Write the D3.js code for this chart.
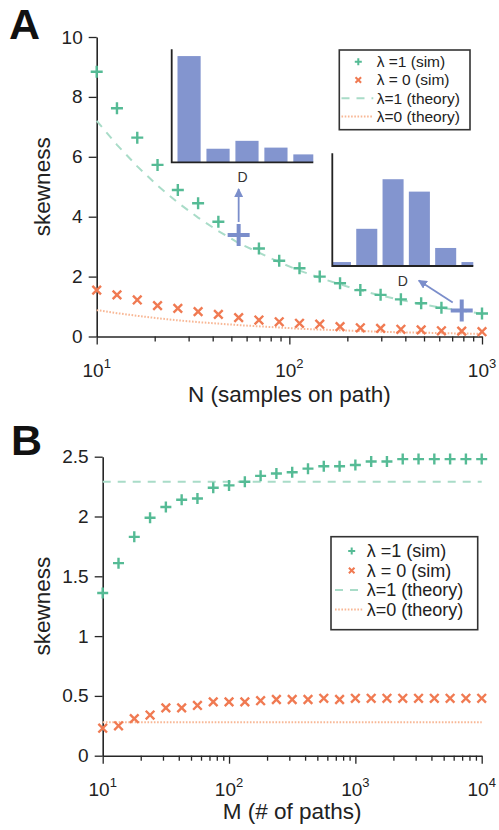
<!DOCTYPE html>
<html>
<head>
<meta charset="utf-8">
<script src="https://cdn.jsdelivr.net/npm/d3@7"></script>
<style>
  body { margin: 0; background: #fff; }
  svg { font-family: "Liberation Sans", Arial, Helvetica, sans-serif; }
</style>
</head>
<body>
<div class="chart"></div>
<script>
// panel A: skewness vs N
var nSamples = [10, 12.74, 16.24, 20.69, 26.37, 33.6, 42.81, 54.56, 69.52, 88.59,
  112.9, 143.8, 183.3, 233.6, 297.6, 379.3, 483.3, 615.8, 784.8, 1000];
var simLam1A = [8.84, 7.62, 6.64, 5.73, 4.89, 4.45, 3.83, 3.39, 2.94, 2.53,
  2.28, 2.00, 1.78, 1.55, 1.39, 1.24, 1.11, 0.96, 0.87, 0.77];
var simLam0A = [1.55, 1.39, 1.22, 1.03, 0.94, 0.83, 0.74, 0.63, 0.55, 0.49,
  0.44, 0.41, 0.33, 0.29, 0.27, 0.24, 0.22, 0.19, 0.18, 0.16];
var theoryLam1A = [7.2, 6.4, 5.68, 5.04, 4.47, 3.97, 3.52, 3.12, 2.8, 2.48,
  2.2, 1.96, 1.74, 1.54, 1.37, 1.22, 1.08, 0.96, 0.86, 0.76];
var theoryLam0A = [0.88, 0.78, 0.69, 0.61, 0.54, 0.48, 0.43, 0.38, 0.34, 0.30,
  0.26, 0.23, 0.21, 0.18, 0.16, 0.14, 0.13, 0.11, 0.10, 0.09];
var highlightA = [7, 18];
var histSmallN = [0.94, 0.12, 0.19, 0.13, 0.07];
var histLargeN = [0.035, 0.33, 0.77, 0.66, 0.16, 0.035];
var yTicksA = [0, 2, 4, 6, 8, 10];

// panel B: skewness vs M
var nPaths = [10, 13.34, 17.78, 23.71, 31.62, 42.17, 56.23, 74.99, 100, 133.4,
  177.8, 237.1, 316.2, 421.7, 562.3, 749.9, 1000, 1334, 1778, 2371,
  3162, 4217, 5623, 7499, 10000];
var simLam1B = [1.36, 1.61, 1.83, 1.99, 2.08, 2.14, 2.15, 2.24, 2.26, 2.29,
  2.34, 2.36, 2.37, 2.40, 2.42, 2.42, 2.43, 2.46, 2.46, 2.48,
  2.48, 2.48, 2.48, 2.48, 2.48];
var simLam0B = [0.23, 0.25, 0.31, 0.34, 0.40, 0.40, 0.42, 0.45, 0.45, 0.45,
  0.46, 0.47, 0.47, 0.47, 0.48, 0.47, 0.48, 0.48, 0.48, 0.48,
  0.48, 0.48, 0.48, 0.48, 0.48];
var theoryPathsB = [10, 10000];
var theoryLam1B = [2.29, 2.29];
var theoryLam0B = [0.28, 0.28];
var yTicksB = [0, 0.5, 1, 1.5, 2, 2.5];

var legendLabels = ['\u03bb =1 (sim)', '\u03bb = 0 (sim)', '\u03bb=1 (theory)', '\u03bb=0 (theory)'];

var green = '#55bb95', orange = '#f07a52', greenLight = '#a9dcc8', orangeLight = '#f8b795';
var blue = '#7b8ecb', axisColor = '#262626';

var svg = d3.select('.chart').append('svg')
  .attr('width', 499).attr('height', 830);

var defs = svg.append('defs');
defs.append('marker')
  .attr('id', 'arrow')
  .attr('viewBox', '0 0 10 10')
  .attr('refX', 9).attr('refY', 5)
  .attr('markerWidth', 9).attr('markerHeight', 9)
  .attr('markerUnits', 'userSpaceOnUse')
  .attr('orient', 'auto')
  .append('path')
    .attr('d', 'M0,0L10,5L0,10z')
    .attr('fill', blue);

function plusPath(h) { return 'M' + (-h) + ',0H' + h + 'M0,' + (-h) + 'V' + h; }
function crossPath(h) { return 'M' + (-h) + ',' + (-h) + 'L' + h + ',' + h + 'M' + (-h) + ',' + h + 'L' + h + ',' + (-h); }

function styleAxis(g) {
  g.selectAll('path.domain').attr('stroke', axisColor).attr('stroke-width', 1.6);
  g.selectAll('.tick line').attr('stroke', axisColor).attr('stroke-width', 1.3);
  g.selectAll('.tick text').attr('fill', '#222');
}

function drawPanel(p) {
  var x = d3.scaleLog().domain(p.xDomain).range(p.xRange);
  var y = d3.scaleLinear().domain(p.yDomain).range(p.yRange);
  var g = svg.append('g');

  // y axis
  var ya = g.append('g')
    .attr('transform', `translate(${p.xRange[0]},0)`)
    .call(d3.axisLeft(y).tickValues(p.yTicks).tickSize(8).tickSizeOuter(0).tickPadding(6)
      .tickFormat(d => String(d)));
  ya.selectAll('.tick text').attr('font-size', 19).attr('font-family', null);
  styleAxis(ya);

  // x axis, major + minor ticks
  var majors = [];
  for (var e = Math.log10(p.xDomain[0]); e <= Math.log10(p.xDomain[1]); e++) majors.push(Math.pow(10, e));
  var minors = [];
  majors.slice(0, -1).forEach(m => { for (var k = 2; k < 10; k++) minors.push(m * k); });
  var xa = g.append('g')
    .attr('transform', `translate(0,${p.yRange[0]})`)
    .call(d3.axisBottom(x).tickValues(majors).tickSize(8).tickSizeOuter(0).tickFormat(''));
  styleAxis(xa);
  var xm = g.append('g')
    .attr('transform', `translate(0,${p.yRange[0]})`)
    .call(d3.axisBottom(x).tickValues(minors).tickSize(5).tickSizeOuter(0).tickFormat(''));
  xm.select('path.domain').remove();
  styleAxis(xm);

  var lab = g.append('g').selectAll('text').data(majors).join('text')
    .attr('x', d => x(d))
    .attr('y', p.yRange[0] + 40)
    .attr('text-anchor', 'middle')
    .attr('font-size', 19)
    .attr('fill', '#222');
  lab.append('tspan').text('10');
  lab.append('tspan').attr('font-size', 13).attr('dy', -9).text(d => Math.round(Math.log10(d)));

  // axis titles
  g.append('text')
    .attr('transform', `translate(${p.yLabelX},${(p.yRange[0] + p.yRange[1]) / 2}) rotate(-90)`)
    .attr('text-anchor', 'middle')
    .attr('dy', '0.35em')
    .attr('font-size', 22.5)
    .attr('fill', '#222')
    .text('skewness');
  g.append('text')
    .attr('x', (p.xRange[0] + p.xRange[1]) / 2)
    .attr('y', p.xLabelY)
    .attr('text-anchor', 'middle')
    .attr('font-size', 22.5)
    .attr('fill', '#222')
    .text(p.xLabel);
  g.append('text')
    .attr('x', p.letterX).attr('y', p.letterY)
    .attr('font-size', 43).attr('font-weight', 'bold')
    .attr('fill', '#111')
    .text(p.letter);

  // theory curves
  var line = d3.line().x(d => x(d[0])).y(d => y(d[1]));
  g.append('path')
    .datum(d3.zip(p.theoryX, p.theory1))
    .attr('d', line)
    .attr('fill', 'none').attr('stroke', greenLight)
    .attr('stroke-width', 2).attr('stroke-dasharray', '8,7');
  g.append('path')
    .datum(d3.zip(p.theoryX, p.theory0))
    .attr('d', line)
    .attr('fill', 'none').attr('stroke', orangeLight)
    .attr('stroke-width', 2).attr('stroke-dasharray', '1.6,1.6');

  // simulation markers
  var hl = p.highlight || [];
  g.append('g').selectAll('path')
    .data(d3.zip(p.simX, p.sim0)).join('path')
    .attr('transform', d => `translate(${x(d[0])},${y(d[1])})`)
    .attr('d', crossPath(p.crossSize))
    .attr('stroke', orange).attr('stroke-width', 2.4).attr('fill', 'none');
  g.append('g').selectAll('path')
    .data(d3.zip(p.simX, p.sim1).filter((d, i) => hl.indexOf(i) < 0)).join('path')
    .attr('transform', d => `translate(${x(d[0])},${y(d[1])})`)
    .attr('d', plusPath(p.plusSize))
    .attr('stroke', green).attr('stroke-width', 2.4).attr('fill', 'none');

  return { g: g, x: x, y: y };
}

function drawLegend(l) {
  var g = svg.append('g');
  g.append('rect')
    .attr('x', l.x).attr('y', l.y).attr('width', l.w).attr('height', l.h)
    .attr('fill', '#fff').attr('stroke', '#333').attr('stroke-width', 1.6);
  legendLabels.forEach(function(t, i) {
    var cy = l.rowY + i * l.rowStep;
    if (i === 0) {
      g.append('path').attr('transform', `translate(${l.markX},${cy})`)
        .attr('d', plusPath(3.5)).attr('stroke', green).attr('stroke-width', 2).attr('fill', 'none');
    } else if (i === 1) {
      g.append('path').attr('transform', `translate(${l.markX},${cy})`)
        .attr('d', crossPath(2.8)).attr('stroke', orange).attr('stroke-width', 2).attr('fill', 'none');
    } else {
      g.append('line')
        .attr('x1', l.lineX[0]).attr('x2', l.lineX[1]).attr('y1', cy).attr('y2', cy)
        .attr('stroke', i === 2 ? greenLight : orangeLight).attr('stroke-width', 2)
        .attr('stroke-dasharray', i === 2 ? '8,7' : '1.6,1.6');
    }
    g.append('text')
      .attr('x', l.textX).attr('y', cy).attr('dy', '0.35em')
      .attr('font-size', l.fontSize).attr('fill', '#222')
      .text(t);
  });
}

function drawInset(s) {
  var x = d3.scaleLinear().domain(s.xDomain).range(s.xRange);
  var y = d3.scaleLinear().domain([0, 1]).range(s.yRange);
  var g = svg.append('g');
  var clipId = 'clip' + s.id;
  defs.append('clipPath').attr('id', clipId).append('rect')
    .attr('x', s.xRange[0]).attr('y', s.yRange[1])
    .attr('width', s.xRange[1] - s.xRange[0]).attr('height', s.yRange[0] - s.yRange[1]);
  g.append('g').attr('clip-path', `url(#${clipId})`)
    .selectAll('rect').data(s.values).join('rect')
    .attr('x', (d, i) => x(i - 0.4))
    .attr('width', (d, i) => x(i + 0.4) - x(i - 0.4))
    .attr('y', d => y(d))
    .attr('height', d => y(0) - y(d))
    .attr('fill', '#8395cf');
  g.append('path')
    .attr('d', `M${s.xRange[0]},${s.yRange[1]}V${s.yRange[0]}H${s.xRange[1]}`)
    .attr('fill', 'none').attr('stroke', '#222').attr('stroke-width', 1.8);
  g.append('text')
    .attr('x', (s.xRange[0] + s.xRange[1]) / 2).attr('y', s.yRange[0] + 20)
    .attr('text-anchor', 'middle').attr('font-size', 14).attr('fill', '#333')
    .text('D');
}

var A = drawPanel({
  xDomain: [10, 1000], xRange: [96.7, 482], yDomain: [0, 10], yRange: [336.5, 37],
  yTicks: yTicksA, simX: nSamples, sim1: simLam1A, sim0: simLam0A,
  theoryX: nSamples, theory1: theoryLam1A, theory0: theoryLam0A,
  highlight: highlightA, plusSize: 6, crossSize: 4.3,
  xLabel: 'N (samples on path)', xLabelY: 402, yLabelX: 42,
  letter: 'A', letterX: 9, letterY: 38.5
});

drawLegend({ x: 339.3, y: 50, w: 130.7, h: 79.7, rowY: 61.7, rowStep: 18.3,
  markX: 358.3, lineX: [341.5, 373.3], textX: 376.7, fontSize: 15.5 });

drawInset({ id: 1, xDomain: [-0.6, 4.29], xRange: [171.7, 313.3], yRange: [162.3, 49.3], values: histSmallN });
drawInset({ id: 2, xDomain: [-0.31, 5.05], xRange: [332.3, 473.3], yRange: [266, 153.3], values: histLargeN });

// highlighted samples with arrows to their histograms
var arrowOffsets = [[[0, -13], [0, -46]], [[-9, -8], [-43, -30]]];
highlightA.forEach(function(idx, j) {
  var px = A.x(nSamples[idx]), py = A.y(simLam1A[idx]);
  var o = arrowOffsets[j];
  svg.append('line')
    .attr('x1', px + o[0][0]).attr('y1', py + o[0][1])
    .attr('x2', px + o[1][0]).attr('y2', py + o[1][1])
    .attr('stroke', blue).attr('stroke-width', 1.8)
    .attr('marker-end', 'url(#arrow)');
  svg.append('path')
    .attr('transform', `translate(${px},${py})`)
    .attr('d', plusPath(11))
    .attr('stroke', blue).attr('stroke-width', 4).attr('fill', 'none');
});

drawPanel({
  xDomain: [10, 10000], xRange: [102.7, 481.7], yDomain: [0, 2.5], yRange: [755.7, 456.7],
  yTicks: yTicksB, simX: nPaths, sim1: simLam1B, sim0: simLam0B,
  theoryX: theoryPathsB, theory1: theoryLam1B, theory0: theoryLam0B,
  plusSize: 5.5, crossSize: 4.3,
  xLabel: 'M (# of paths)', xLabelY: 819, yLabelX: 42,
  letter: 'B', letterX: 11, letterY: 455
});

drawLegend({ x: 331, y: 536.7, w: 146.7, h: 93, rowY: 551, rowStep: 19.5,
  markX: 351.7, lineX: [335, 363], textX: 366.7, fontSize: 18 });
</script>
</body>
</html>
